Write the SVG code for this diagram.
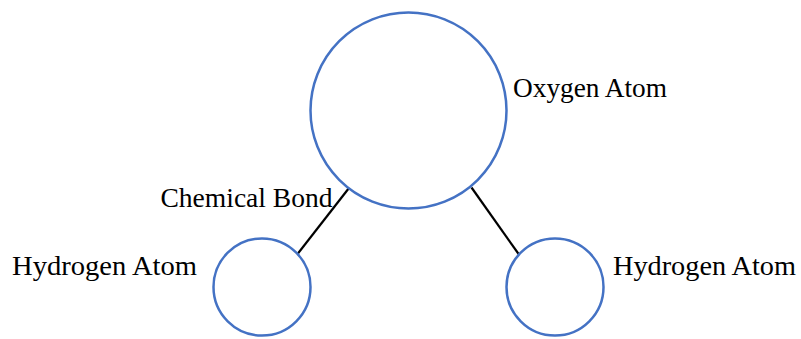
<svg xmlns="http://www.w3.org/2000/svg" width="801" height="339" viewBox="0 0 801 339">
<style>
.atom{fill:#fff;stroke:#4472C4;stroke-width:2.5}
.bond{stroke:#000;stroke-width:2.2;fill:none}
.lbl{font-family:"Liberation Serif","DejaVu Serif",serif;font-size:28px;fill:#000}
</style>
<rect width="801" height="339" fill="#fff"/>
<g id="connectors">
<line class="bond" x1="349" y1="188" x2="296" y2="256"/>
<line class="bond" x1="471.5" y1="187.5" x2="520" y2="256"/>
</g>
<g id="oxygen">
<circle class="atom" cx="408.5" cy="110.5" r="98"/>
<text class="lbl" x="513" y="97" textLength="154" lengthAdjust="spacingAndGlyphs">Oxygen Atom</text>
</g>
<g id="hydrogen-left">
<circle class="atom" cx="262" cy="287" r="48.5"/>
<text class="lbl" x="12" y="275" textLength="185" lengthAdjust="spacingAndGlyphs">Hydrogen Atom</text>
</g>
<g id="hydrogen-right">
<circle class="atom" cx="555" cy="287" r="48.5"/>
<text class="lbl" x="613" y="275" textLength="183" lengthAdjust="spacingAndGlyphs">Hydrogen Atom</text>
</g>
<g id="bond-label">
<text class="lbl" x="160.5" y="207" textLength="172" lengthAdjust="spacingAndGlyphs">Chemical Bond</text>
</g>
</svg>
